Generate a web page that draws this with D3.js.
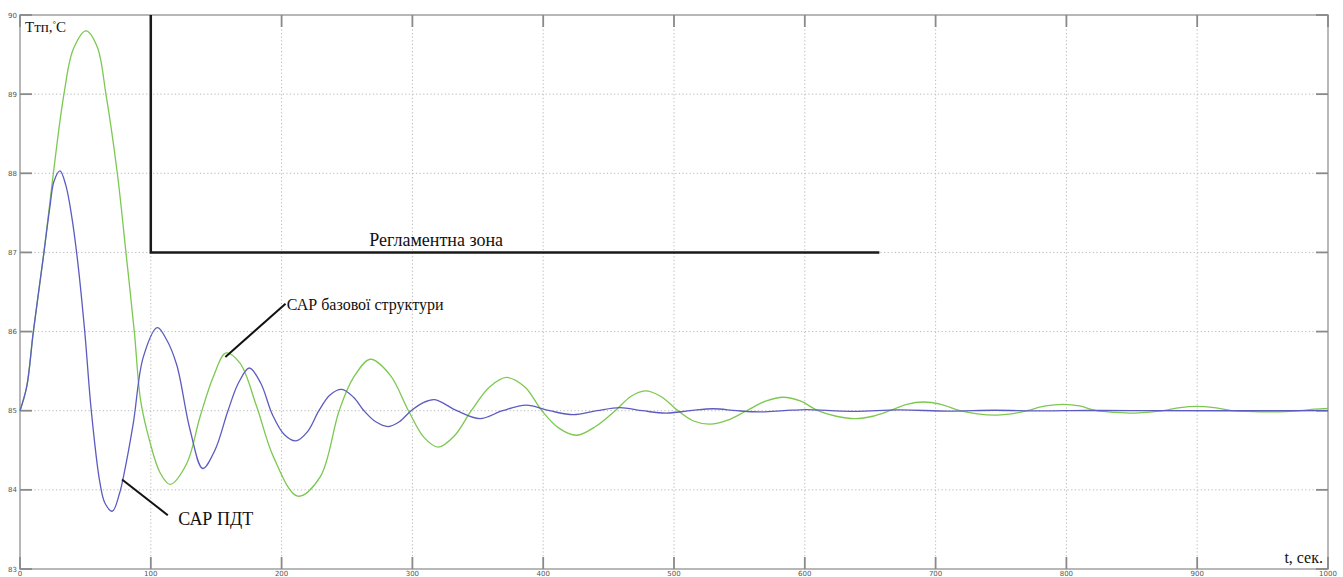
<!DOCTYPE html>
<meta charset="utf-8">
<head>
  <meta charset="UTF-8">
  <title>Tтп</title>
  <style>
    body { margin: 0; background: #fff; }
    svg { display: block; }
    .grid line { stroke: #b8b8b8; stroke-dasharray: 1.2 2.4; stroke-width: 1; }
    .tick-lab { font-family: "DejaVu Sans", sans-serif; font-size: 7px; fill: #555; }
  </style>
</head>
<body>
<script src="https://d3js.org/d3.v7.min.js"></script>
<div id="chart"></div>
<script>

// Data: [t, Tтп]
var xTicks = [0, 100, 200, 300, 400, 500, 600, 700, 800, 900, 1000];
var yTicks = [83, 84, 85, 86, 87, 88, 89, 90];

var greenT = [0, 5.1, 10.2, 18.3, 25.5, 33.6, 40.8, 50.5, 59, 65.7, 74.4, 81, 87.4, 92.3, 99.4, 107, 114.7,
  127.4, 137.6, 147.8, 157.5, 168.2, 181, 193.7, 212.3, 229.4, 244, 255, 268, 283, 297, 309, 319.8, 332, 345, 359,
  372, 386, 399, 412, 425.6, 440, 455, 467, 477.8, 490, 503, 515, 527.5, 541, 555.5, 570, 583.6, 597, 610, 624,
  638.4, 652, 665, 678, 690.6, 704, 718.6, 732, 746.7, 758, 769.6, 784, 797.6, 810, 823, 837, 851, 862, 874, 887,
  899.6, 913, 927.5, 943, 958, 968, 978.6, 990, 1000];
var greenV = [85, 85.3, 86, 87, 88, 89, 89.57, 89.8, 89.6, 89, 88, 87, 86, 85.12, 84.6, 84.22, 84.07,
  84.33, 84.92, 85.43, 85.73, 85.6, 85.05, 84.42, 83.92, 84.16, 85.0, 85.42, 85.65, 85.45, 85.0, 84.66, 84.54, 84.68, 85.0, 85.3,
  85.42, 85.3, 85.0, 84.78, 84.69, 84.8, 85.0, 85.18, 85.25, 85.18, 85.0, 84.87, 84.83, 84.88, 85.0, 85.12, 85.17, 85.12, 85.0, 84.93,
  84.9, 84.93, 85.0, 85.08, 85.11, 85.08, 85.0, 84.96, 84.945, 84.96, 85.0, 85.06, 85.08, 85.06, 85.0, 84.98, 84.97, 84.98, 85.0, 85.04,
  85.055, 85.04, 85.0, 84.99, 84.985, 84.99, 85.0, 85.02, 85.03];

var blueT = [0, 5.1, 10.2, 18.3, 22.9, 26, 30.6, 35, 39.5, 44, 49.5, 54.5, 61, 65, 70.6, 76, 79.5, 86.6, 94.3, 105, 112, 119.8,
  130, 139.7, 149, 159, 167, 175.3, 184, 193, 202, 211, 220, 228.5, 237, 246, 255, 263, 272, 281.6, 290, 299, 308,
  317, 334, 351.7, 369, 387, 405, 423, 441, 458.7, 476, 494, 512, 530, 548, 566, 584, 601, 620, 640, 672, 710, 745,
  780, 815, 850, 1000];
var blueV = [85, 85.3, 86, 87, 87.58, 87.9, 88.03, 87.85, 87.46, 86.9, 86, 85, 84.1, 83.83, 83.73, 83.95, 84.2, 84.84, 85.68, 86.05, 85.9, 85.58,
  84.76, 84.27, 84.5, 85.0, 85.35, 85.54, 85.35, 84.95, 84.7, 84.62, 84.74, 85.0, 85.2, 85.27, 85.17, 85.0, 84.86, 84.8, 84.86, 85.0, 85.1,
  85.14, 85.0, 84.9, 85.0, 85.07, 85.0, 84.95, 85.0, 85.04, 85.0, 84.97, 85.0, 85.025, 85.0, 84.985, 85.0, 85.015, 85.0, 84.992, 85.01, 84.995, 85.006,
  84.997, 85.003, 85.0, 85.0];

// Регламентна зона boundary
var zoneT = [100, 100, 657];
var zoneV = [90, 87, 87];

var serif = "'Liberation Serif', 'DejaVu Serif', 'Times New Roman', serif";

var width = 1343, height = 577;
var margin = {left: 20, right: 15, top: 15, bottom: 8};

var svg = d3.select("#chart").append("svg")
    .attr("width", width)
    .attr("height", height);

var x = d3.scaleLinear().domain([0, 1000]).range([margin.left, width - margin.right]);
var y = d3.scaleLinear().domain([83, 90]).range([height - margin.bottom, margin.top]);

// grid
var grid = svg.append("g").attr("class", "grid");
grid.selectAll(".gx").data(xTicks.slice(1, -1)).enter().append("line")
    .attr("x1", function(d) { return x(d); }).attr("x2", function(d) { return x(d); })
    .attr("y1", y(90)).attr("y2", y(83));
grid.selectAll(".gy").data(yTicks.slice(1, -1)).enter().append("line")
    .attr("y1", function(d) { return y(d); }).attr("y2", function(d) { return y(d); })
    .attr("x1", x(0)).attr("x2", x(1000));

// frame
svg.append("rect")
    .attr("x", x(0)).attr("y", y(90))
    .attr("width", x(1000) - x(0)).attr("height", y(83) - y(90))
    .attr("fill", "none").attr("stroke", "#a0a0a0").attr("stroke-width", 1.5);

// inward ticks
var tk = svg.append("g").attr("stroke", "#8a8a8a").attr("stroke-width", 1.8);
tk.selectAll(".tx").data(xTicks).enter().append("line")
    .attr("x1", function(d) { return x(d); }).attr("x2", function(d) { return x(d); })
    .attr("y1", y(83)).attr("y2", y(83) - 12);
tk.selectAll(".tx2").data(xTicks).enter().append("line")
    .attr("x1", function(d) { return x(d); }).attr("x2", function(d) { return x(d); })
    .attr("y1", y(90)).attr("y2", y(90) + 12);
tk.selectAll(".ty").data(yTicks).enter().append("line")
    .attr("y1", function(d) { return y(d); }).attr("y2", function(d) { return y(d); })
    .attr("x1", x(0)).attr("x2", x(0) + 12);
tk.selectAll(".ty2").data(yTicks).enter().append("line")
    .attr("y1", function(d) { return y(d); }).attr("y2", function(d) { return y(d); })
    .attr("x1", x(1000)).attr("x2", x(1000) - 12);

// tick labels
svg.selectAll(".xl").data(xTicks).enter().append("text")
    .attr("class", "tick-lab")
    .attr("x", function(d) { return x(d); })
    .attr("y", y(83) + 6.5)
    .attr("text-anchor", "middle")
    .text(function(d) { return d; });
svg.selectAll(".yl").data(yTicks).enter().append("text")
    .attr("class", "tick-lab")
    .attr("x", x(0) - 3)
    .attr("y", function(d) { return y(d) + 2.5; })
    .attr("text-anchor", "end")
    .text(function(d) { return d; });

// curves
var line = d3.line()
    .x(function(d) { return x(d[0]); })
    .y(function(d) { return y(d[1]); })
    .curve(d3.curveCatmullRom.alpha(0.5));

var green = greenT.map(function(t, i) { return [t, greenV[i]]; });
var blue = blueT.map(function(t, i) { return [t, blueV[i]]; });

svg.append("path").datum(green)
    .attr("d", line).attr("fill", "none")
    .attr("stroke", "#7cc850").attr("stroke-width", 1.3);
svg.append("path").datum(blue)
    .attr("d", line).attr("fill", "none")
    .attr("stroke", "#5c5cc0").attr("stroke-width", 1.3);

// zone
var zone = zoneT.map(function(t, i) { return [t, zoneV[i]]; });
svg.append("path").datum(zone)
    .attr("d", d3.line().x(function(d) { return x(d[0]); }).y(function(d) { return y(d[1]); }))
    .attr("fill", "none").attr("stroke", "#1a1a1a").attr("stroke-width", 2.5);

// labels
svg.append("text")
    .attr("x", x(267)).attr("y", y(87) - 6)
    .style("font-family", serif).style("font-size", "18px").style("fill", "#111")
    .text("Регламентна зона");

svg.append("line")
    .attr("x1", x(157)).attr("y1", y(85.68))
    .attr("x2", x(203)).attr("y2", y(86.35))
    .attr("stroke", "#111").attr("stroke-width", 2);
svg.append("text")
    .attr("x", x(204)).attr("y", y(86.35) + 6)
    .style("font-family", serif).style("font-size", "16px").style("fill", "#111")
    .text("САР базової структури");

svg.append("line")
    .attr("x1", x(78)).attr("y1", y(84.13))
    .attr("x2", x(113)).attr("y2", y(83.68))
    .attr("stroke", "#111").attr("stroke-width", 2);
svg.append("text")
    .attr("x", x(121)).attr("y", y(83.55))
    .style("font-family", serif).style("font-size", "18px").style("fill", "#111")
    .text("САР ПДТ");

// axis titles
var yt = svg.append("text")
    .attr("x", x(0) + 5).attr("y", y(90) + 17)
    .style("font-family", serif).style("font-size", "15px").style("fill", "#111");
yt.append("tspan").text("Tтп,");
yt.append("tspan").attr("dy", -5).style("font-size", "9px").text("°");
yt.append("tspan").attr("dy", 5).text("C");

svg.append("text")
    .attr("x", x(1000) - 5).attr("y", y(83) - 6)
    .attr("text-anchor", "end")
    .style("font-family", serif).style("font-size", "16px").style("fill", "#111")
    .text("t, сек.");

</script>
</body>
